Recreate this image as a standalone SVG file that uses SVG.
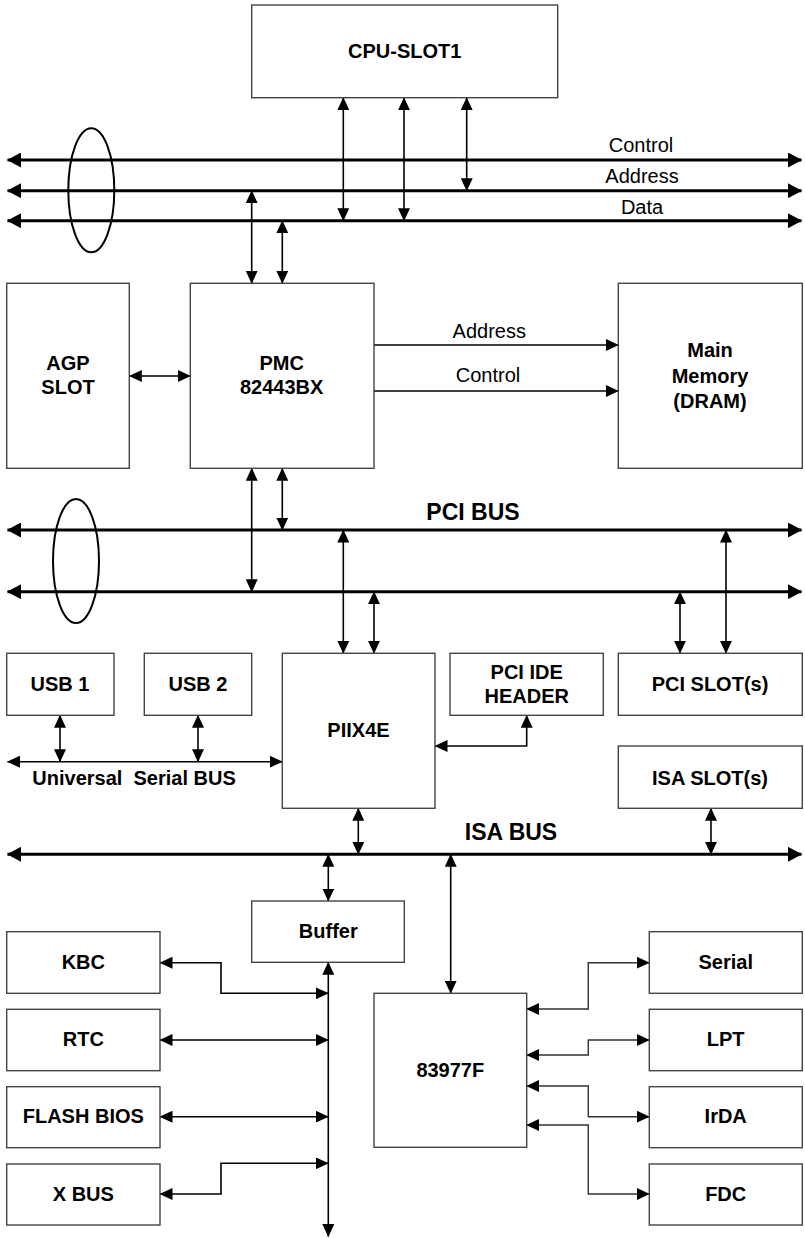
<svg xmlns="http://www.w3.org/2000/svg" width="805" height="1238" viewBox="0 0 805 1238">
<defs>
<style>
.box{fill:#fff;stroke:#444;stroke-width:1.4}
.t{font-family:"Liberation Sans",Arial,sans-serif;font-size:20px;font-weight:bold;fill:#000;text-anchor:middle}
.n{font-family:"Liberation Sans",Arial,sans-serif;font-size:20px;fill:#000;text-anchor:middle}
.big{font-family:"Liberation Sans",Arial,sans-serif;font-size:23px;font-weight:bold;fill:#000;text-anchor:middle}
.bus{stroke:#000;stroke-width:3;fill:none;marker-start:url(#ab);marker-end:url(#ab)}
.c{stroke:#000;stroke-width:1.6;fill:none;marker-start:url(#a);marker-end:url(#a)}
.c1{stroke:#000;stroke-width:1.6;fill:none;marker-end:url(#a)}
.g{stroke:#333;stroke-width:1.4;fill:none;marker-start:url(#a);marker-end:url(#a)}
.el{fill:none;stroke:#000;stroke-width:2}
</style>
<marker id="a" viewBox="0 0 13 12" refX="12.5" refY="6" markerWidth="13" markerHeight="12" orient="auto-start-reverse" markerUnits="userSpaceOnUse"><path d="M0,0 L13,6 L0,12 z" fill="#000"/></marker>
<marker id="ab" viewBox="0 0 14 15" refX="13.5" refY="7.5" markerWidth="14" markerHeight="15" orient="auto-start-reverse" markerUnits="userSpaceOnUse"><path d="M0,0 L14,7.5 L0,15 z" fill="#000"/></marker>
</defs>
<rect width="805" height="1238" fill="#fff"/>

<g id="buses">
<line class="bus" x1="7.5" y1="160" x2="801.5" y2="160"/>
<line class="bus" x1="7.5" y1="190.7" x2="801.5" y2="190.7"/>
<line class="bus" x1="7.5" y1="220.7" x2="801.5" y2="220.7"/>
<line class="bus" x1="7.5" y1="530" x2="801.5" y2="530"/>
<line class="bus" x1="7.5" y1="591.7" x2="801.5" y2="591.7"/>
<line class="bus" x1="7.5" y1="854.3" x2="801.5" y2="854.3"/>
<ellipse class="el" cx="91.3" cy="190.3" rx="23" ry="62"/>
<ellipse class="el" cx="76" cy="561" rx="23" ry="62"/>
<text class="n" x="641" y="152">Control</text>
<text class="n" x="642" y="183.3">Address</text>
<text class="n" x="642" y="214.3">Data</text>
<text class="big" x="473" y="520">PCI BUS</text>
<text class="big" x="511" y="840">ISA BUS</text>
<text class="t" x="32.3" y="785" style="text-anchor:start;white-space:pre" xml:space="preserve">Universal  Serial BUS</text>
</g>

<g id="connectors">
<line class="c" x1="343.3" y1="97.7" x2="343.3" y2="220.7"/>
<line class="c" x1="404" y1="97.7" x2="404" y2="220.7"/>
<line class="c" x1="466.7" y1="97.7" x2="466.7" y2="190.7"/>
<line class="c" x1="251.7" y1="283.3" x2="251.7" y2="190.7"/>
<line class="c" x1="282.3" y1="283.3" x2="282.3" y2="220.7"/>
<line class="c" x1="129.3" y1="376" x2="190.3" y2="376"/>
<line class="c1" x1="374" y1="345" x2="618.3" y2="345"/>
<line class="c1" x1="374" y1="391" x2="618.3" y2="391"/>
<text class="n" x="489.3" y="338.3">Address</text>
<text class="n" x="488" y="382.3">Control</text>
<line class="c" x1="251.7" y1="468.3" x2="251.7" y2="591.7"/>
<line class="c" x1="282.3" y1="468.3" x2="282.3" y2="530"/>
<line class="c" x1="343.3" y1="653.3" x2="343.3" y2="530"/>
<line class="c" x1="374" y1="653.3" x2="374" y2="591.7"/>
<line class="c" x1="680" y1="653.3" x2="680" y2="591.7"/>
<line class="c" x1="726" y1="653.3" x2="726" y2="530"/>
<line class="c" x1="60" y1="715.3" x2="60" y2="761.7"/>
<line class="c" x1="198" y1="715.3" x2="198" y2="761.7"/>
<line class="c" x1="7.5" y1="761.7" x2="282.3" y2="761.7"/>
<path class="c" d="M526.7,715.3 V746 H435"/>
<line class="c" x1="358.3" y1="808.3" x2="358.3" y2="854.3"/>
<line class="c" x1="711" y1="808.3" x2="711" y2="854.3"/>
<line class="c" x1="328.3" y1="901" x2="328.3" y2="854.3"/>
<line class="c" x1="450.7" y1="993.3" x2="450.7" y2="854.3"/>
<line class="c" x1="328.3" y1="962.3" x2="328.3" y2="1236.5"/>
<path class="c" d="M160,962.7 H221 V993.3 H328.3"/>
<path class="c" d="M160,1040 H328.3"/>
<path class="c" d="M160,1116.7 H328.3"/>
<path class="c" d="M160,1194 H221 V1163.3 H328.3"/>
<path class="g" d="M526.7,1009 H588.3 V962.7 H649.3"/>
<path class="g" d="M526.7,1055 H588.3 V1040 H649.3"/>
<path class="g" d="M526.7,1086 H588.3 V1116.7 H649.3"/>
<path class="g" d="M526.7,1125 H588.3 V1194 H649.3"/>
</g>

<g id="cpu"><rect class="box" x="251.7" y="5" width="306" height="92.7"/><text class="t" x="404.7" y="58.3">CPU-SLOT1</text></g>
<g id="agp"><rect class="box" x="6.7" y="283.3" width="122.6" height="185"/><text class="t" x="68" y="370">AGP</text><text class="t" x="68" y="394">SLOT</text></g>
<g id="pmc"><rect class="box" x="190.3" y="283.3" width="183.7" height="185"/><text class="t" x="281.7" y="370">PMC</text><text class="t" x="281.7" y="394">82443BX</text></g>
<g id="memory"><rect class="box" x="618.3" y="283.3" width="184" height="185"/><text class="t" x="710" y="357.3">Main</text><text class="t" x="710" y="383">Memory</text><text class="t" x="710" y="407.5">(DRAM)</text></g>
<g id="usb1"><rect class="box" x="6.7" y="653.3" width="107.3" height="62"/><text class="t" x="60" y="691">USB 1</text></g>
<g id="usb2"><rect class="box" x="144.3" y="653.3" width="107.4" height="62"/><text class="t" x="198" y="691">USB 2</text></g>
<g id="piix4e"><rect class="box" x="282.3" y="653.3" width="152.7" height="155"/><text class="t" x="358.5" y="737.3">PIIX4E</text></g>
<g id="ide"><rect class="box" x="450" y="653.3" width="153.3" height="62"/><text class="t" x="526.7" y="679.3">PCI IDE</text><text class="t" x="526.7" y="703.3">HEADER</text></g>
<g id="pcislot"><rect class="box" x="618.3" y="653.3" width="184" height="62"/><text class="t" x="710" y="691">PCI SLOT(s)</text></g>
<g id="isaslot"><rect class="box" x="618.3" y="746" width="184" height="62.3"/><text class="t" x="710" y="784.5">ISA SLOT(s)</text></g>
<g id="buffer"><rect class="box" x="251.7" y="901" width="152.6" height="61.3"/><text class="t" x="328.3" y="938.3">Buffer</text></g>
<g id="kbc"><rect class="box" x="6.7" y="931.7" width="153.3" height="61.6"/><text class="t" x="83.3" y="969.3">KBC</text></g>
<g id="rtc"><rect class="box" x="6.7" y="1009.3" width="153.3" height="61.4"/><text class="t" x="83.3" y="1046">RTC</text></g>
<g id="flash"><rect class="box" x="6.7" y="1086.7" width="153.3" height="61"/><text class="t" x="83.3" y="1123.3">FLASH BIOS</text></g>
<g id="xbus"><rect class="box" x="6.7" y="1164" width="153.3" height="61"/><text class="t" x="83.3" y="1200.7">X BUS</text></g>
<g id="sio"><rect class="box" x="374" y="993.3" width="152.7" height="154"/><text class="t" x="450.3" y="1077.3">83977F</text></g>
<g id="serial"><rect class="box" x="649.3" y="931.7" width="153" height="61.6"/><text class="t" x="725.7" y="969.3">Serial</text></g>
<g id="lpt"><rect class="box" x="649.3" y="1009.3" width="153" height="61.4"/><text class="t" x="725.7" y="1046">LPT</text></g>
<g id="irda"><rect class="box" x="649.3" y="1086.7" width="153" height="61"/><text class="t" x="725.7" y="1123.3">IrDA</text></g>
<g id="fdc"><rect class="box" x="649.3" y="1164" width="153" height="61"/><text class="t" x="725.7" y="1200.7">FDC</text></g>
</svg>
